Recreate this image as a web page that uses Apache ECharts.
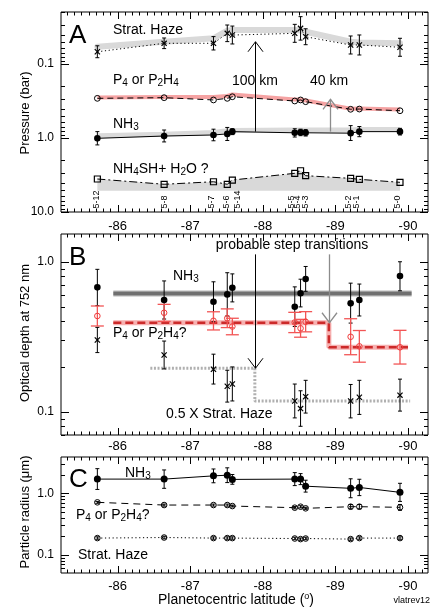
<!DOCTYPE html>
<html><head><meta charset="utf-8">
<script src="https://cdn.jsdelivr.net/npm/echarts@6/dist/echarts.min.js"></script>
<style>html,body{margin:0;padding:0;background:#fff}#c{width:436px;height:610px}</style>
</head><body><div id="c"></div>
<script>
// ---------------- data ----------------
const sampleIds = ['5-12','5-8','5-7','5-6','5-14','5-5','5-4','5-3','5-2','5-1','5-0'];
const latitude = [-85.72,-86.64,-87.32,-87.51,-87.58,-88.44,-88.52,-88.59,-89.21,-89.33,-89.89];
const xTickLabels = [-86,-87,-88,-89,-90];
const pressureTicks = [0.1, 1, 10];
const opticalDepthTicks = [0.1, 1];
const radiusTicks = [0.1, 1];

// Panel A : pressure (bar)
const hazeP    = [0.0683,0.0525,0.0525,0.0385,0.0406,0.0385,0.0330,0.0428,0.0553,0.0553,0.0594];
const hazePLo  = [0.0567,0.0445,0.0426,0.0297,0.0307,0.0291,0.0229,0.0334,0.0418,0.0405,0.0449];
const hazePHi  = [0.0822,0.0619,0.0646,0.0498,0.0536,0.0509,0.0475,0.0548,0.0732,0.0755,0.0786];
const hazeBandP= [0.0586,0.0500,0.0450,0.0355,0.0347,0.0347,0.0353,0.0366,0.0500,0.0510,0.0525];
const p4P      = [0.291,0.285,0.306,0.291,0.277,0.316,0.306,0.323,0.409,0.406,0.428];
const p4BandP  = [0.284,0.280,0.279,0.270,0.258,0.302,0.302,0.311,0.402,0.400,0.412];
const nh3P     = [1.01,0.94,0.91,0.88,0.82,0.85,0.84,0.85,0.86,0.82,0.82];
const nh3PLo   = [0.82,0.78,0.76,0.72,0.75,0.75,0.76,0.77,0.68,0.70,0.74];
const nh3PHi   = [1.24,1.13,1.09,1.08,0.90,0.97,0.93,0.94,1.08,0.96,0.91];
const nh3BandP = [0.93,0.89,0.84,0.80,0.79,0.78,0.78,0.78,0.78,0.77,0.77];
const nh4shP   = [3.58,4.22,3.90,4.22,3.70,3.00,2.77,3.23,3.51,3.62,3.97];
const nh4shBaseP = 5.15;
const transitionLat = [-87.89,-88.92];
const riseLabels = ['100 km','40 km'];
const riseFromP = [0.82,0.82];
const riseToP   = [0.05,0.30];

// Panel B : optical depth at 752 nm
const nh3Tau   = [0.675,0.556,0.541,0.606,0.671,0.501,0.616,0.767,0.528,0.556,0.803];
const nh3TauLo = [0.51,0.415,0.398,0.435,0.54,0.37,0.50,0.635,0.39,0.435,0.64];
const nh3TauHi = [0.89,0.745,0.735,0.845,0.83,0.68,0.765,0.93,0.72,0.71,1.0];
const p4Tau    = [0.435,0.457,0.404,0.420,0.370,0.394,0.360,0.398,0.316,0.273,0.269];
const p4TauLo  = [0.373,0.400,0.351,0.364,0.326,0.337,0.314,0.341,0.240,0.214,0.208];
const p4TauHi  = [0.507,0.520,0.464,0.485,0.420,0.460,0.413,0.465,0.417,0.348,0.349];
const hazeTau  = [0.301,0.239,0.192,0.148,0.153,0.118,0.105,0.126,0.118,0.125,0.129];
const hazeTauLo= [0.248,0.193,0.153,0.116,0.118,0.091,0.080,0.098,0.091,0.096,0.101];
const hazeTauHi= [0.365,0.296,0.242,0.189,0.199,0.153,0.138,0.162,0.152,0.162,0.165];
const nh3StepLat = [-85.94,-90.05];
const nh3StepTau = [0.615,0.615];
const p4StepLat  = [-85.94,-88.91,-88.91,-90.0];
const p4StepTau  = [0.392,0.392,0.269,0.269];
const hazeStepLat= [-86.45,-87.89,-87.89,-90.03];
const hazeStepTau= [0.195,0.195,0.118,0.118];
const stepFromTau = [1.12,1.12];
const stepToTau   = [0.195,0.392];
const stepLat     = [-87.89,-88.91];

// Panel C : particle radius (micron)
const nh3R   = [1.71,1.71,1.93,1.98,1.69,1.71,1.71,1.31,1.21,1.25,1.04];
const nh3RLo = [1.16,1.21,1.49,1.50,1.41,1.34,1.39,1.05,0.85,0.92,0.74];
const nh3RHi = [2.53,2.41,2.50,2.61,2.03,2.18,2.10,1.64,1.73,1.70,1.46];
const p4R    = [0.715,0.646,0.646,0.646,0.622,0.585,0.607,0.571,0.607,0.607,0.593];
const p4RLo  = [0.69,0.62,0.62,0.62,0.60,0.56,0.58,0.55,0.56,0.56,0.53];
const p4RHi  = [0.74,0.67,0.67,0.67,0.645,0.61,0.63,0.595,0.66,0.66,0.66];
const hazeR  = [0.187,0.191,0.187,0.187,0.187,0.184,0.180,0.184,0.180,0.187,0.187];
const hazeRLo= [0.179,0.182,0.179,0.179,0.179,0.176,0.172,0.176,0.172,0.179,0.179];
const hazeRHi= [0.196,0.200,0.196,0.196,0.196,0.193,0.188,0.193,0.188,0.196,0.196];

// ---------------- chart ----------------
const FONT = '"Liberation Sans", Arial, Helvetica, sans-serif';
const L = Math.log10;
const X_MIN = -90.276, X_MAX = -85.219;
const grids = [
  {left:61, top:12,  width:367, height:200, show:true, borderColor:'#000', borderWidth:1},
  {left:61, top:234, width:367, height:201, show:true, borderColor:'#000', borderWidth:1},
  {left:61, top:457, width:367, height:116, show:true, borderColor:'#000', borderWidth:1}
];
const yRange = [[-1.703, 1.0], [-1.155, 0.185], [-1.297, 0.593]];
const yInverse = [true, false, false];
const yTickVals = [pressureTicks, opticalDepthTicks, radiusTicks];
const xLabelMargin = [8, 5, 7];

const xMinor = []; for (let i = 853; i <= 902; i++) if (i % 10) xMinor.push(-i / 10);
function logMinor(r){const o=[];for(let d=-3;d<=2;d++)for(let m=2;m<=9;m++){const v=d+L(m);if(v>r[0]&&v<r[1])o.push(v);}return o;}

function tickSeries(g){
  const data=[];
  xTickLabels.forEach(v=>data.push([v,0]));
  xMinor.forEach(v=>data.push([v,1]));
  yTickVals[g].forEach(v=>data.push([L(v),2]));
  logMinor(yRange[g]).forEach(v=>data.push([v,3]));
  return {type:'custom', xAxisIndex:g, yAxisIndex:g, silent:true, z:20, data,
    renderItem(params, api){
      const cs=params.coordSys, v=api.value(0), k=api.value(1);
      const st={stroke:'#000', lineWidth:1};
      if(k<2){
        const px=Math.round(api.coord([v,0])[0])+0.5, len=k===0?7:3.5;
        return {type:'group',children:[
          {type:'line',shape:{x1:px,y1:cs.y+cs.height,x2:px,y2:cs.y+cs.height-len},style:st},
          {type:'line',shape:{x1:px,y1:cs.y,x2:px,y2:cs.y+len},style:st}]};
      }
      const py=Math.round(api.coord([-88,v])[1])+0.5, len=k===2?8:4;
      return {type:'group',children:[
        {type:'line',shape:{x1:cs.x,y1:py,x2:cs.x+len,y2:py},style:st},
        {type:'line',shape:{x1:cs.x+cs.width,y1:py,x2:cs.x+cs.width-len,y2:py},style:st}]};
    }};
}

function lineSeries(g, xs, ys, lineStyle, extra){
  return Object.assign({type:'line', xAxisIndex:g, yAxisIndex:g, silent:true, symbol:'none', showSymbol:false,
    data: xs.map((x,i)=>[x, L(ys[i])]), lineStyle, z:3, animation:false}, extra||{});
}

function pointSeries(g, ys, lo, hi, mk){
  const data = latitude.map((x,i)=>[x, L(ys[i]), L(lo?lo[i]:ys[i]), L(hi?hi[i]:ys[i])]);
  return {type:'custom', xAxisIndex:g, yAxisIndex:g, silent:true, z:10, data,
    encode:{x:0, y:1},
    renderItem(params, api){
      const c=api.coord([api.value(0),api.value(1)]);
      const a=api.coord([api.value(0),api.value(2)]);
      const b=api.coord([api.value(0),api.value(3)]);
      const ch=[]; const col=mk.color||'#000';
      const es={stroke:mk.ecolor||col, lineWidth:mk.ew||1};
      if(Math.abs(a[1]-b[1])>1){
        ch.push({type:'line',shape:{x1:c[0],y1:a[1],x2:c[0],y2:b[1]},style:es});
        ch.push({type:'line',shape:{x1:c[0]-mk.cap,y1:a[1],x2:c[0]+mk.cap,y2:a[1]},style:es});
        ch.push({type:'line',shape:{x1:c[0]-mk.cap,y1:b[1],x2:c[0]+mk.cap,y2:b[1]},style:es});
      }
      const r=mk.r;
      if(mk.type==='dot') ch.push({type:'circle',shape:{cx:c[0],cy:c[1],r},style:{fill:col}});
      else if(mk.type==='ring') ch.push({type:'circle',shape:{cx:c[0],cy:c[1],r},style:{fill:'transparent',stroke:col,lineWidth:mk.lw||1}});
      else if(mk.type==='square') ch.push({type:'rect',shape:{x:c[0]-r,y:c[1]-r,width:2*r,height:2*r},style:{fill:'transparent',stroke:col,lineWidth:mk.lw||1.2}});
      else if(mk.type==='x'){
        const s={stroke:col,lineWidth:mk.lw||1.2};
        ch.push({type:'line',shape:{x1:c[0]-r,y1:c[1]-r,x2:c[0]+r,y2:c[1]+r},style:s});
        ch.push({type:'line',shape:{x1:c[0]-r,y1:c[1]+r,x2:c[0]+r,y2:c[1]-r},style:s});
      }
      return {type:'group',children:ch};
    }};
}

function arrowSeries(g, lats, from, to, colors, widths){
  const data = lats.map((x,i)=>[x, L(from[i]), L(to[i]), i]);
  return {type:'custom', xAxisIndex:g, yAxisIndex:g, silent:true, z:8, data, encode:{x:0,y:1},
    renderItem(params, api){
      const i=api.value(3);
      const a=api.coord([api.value(0),api.value(1)]);
      const b=api.coord([api.value(0),api.value(2)]);
      const x=Math.round(a[0])+0.5, dir=a[1]>b[1]?1:-1;
      const s={stroke:colors[i], lineWidth:widths[i]};
      return {type:'group',children:[
        {type:'line',shape:{x1:x,y1:a[1],x2:x,y2:b[1]},style:s},
        {type:'polyline',shape:{points:[[x-7.5,b[1]+dir*10],[x,b[1]],[x+7.5,b[1]+dir*10]]},style:Object.assign({fill:null},s)}
      ]};
    }};
}

const labelNudge = [-1,0,-2,-1,5,-3,-3,0,-2,-3,-2];
function sampleLabelSeries(){
  return {type:'custom', xAxisIndex:0, yAxisIndex:0, silent:true, z:12,
    data: latitude.map((x,i)=>[x,0,i]), encode:{x:0,y:1},
    renderItem(params, api){
      const cs=params.coordSys, i=api.value(2);
      const px=api.coord([api.value(0),0])[0]+labelNudge[i];
      return {type:'text', x:px, y:cs.y+cs.height-3.5, rotation:Math.PI/2,
        style:{text:sampleIds[i], fill:'#000', fontSize:9, fontFamily:FONT, align:'left', verticalAlign:'middle'}};
    }};
}

const R = {
  a:{fontSize:14, fontFamily:FONT, lineHeight:16, fill:'#000'},
  s:{fontSize:10, fontFamily:FONT, lineHeight:8, verticalAlign:'bottom', fill:'#000'},
  b:{fontSize:26, fontFamily:FONT, lineHeight:28, fill:'#000'},
  p:{fontSize:9, fontFamily:FONT, lineHeight:8, verticalAlign:'top', fill:'#000'}
};
function txt(x,y,text,align){
  return {type:'text', x, y, z:100, silent:true,
    style:{text, rich:R, fill:'#000', font:'14px '+FONT, align:align||'left', verticalAlign:'middle'}};
}
function vtxt(x,y,text){
  return {type:'text', x, y, rotation:Math.PI/2, z:100, silent:true,
    style:{text, fill:'#000', font:'13px '+FONT, align:'center', verticalAlign:'middle'}};
}
const P4 = '{a|P}{s|4}{a| or P}{s|2}{a|H}{s|4}';
const NH3 = '{a|NH}{s|3}';

const series = [];
// ---- Panel A
series.push(lineSeries(0, latitude, hazeBandP, {color:'#d9d9d9', width:6, cap:'round'}, {z:1}));
series.push(lineSeries(0, latitude, p4BandP, {color:'#f5a3a3', width:4}, {z:1}));
series.push(lineSeries(0, latitude, nh3BandP, {color:'#dadada', width:5}, {z:1}));
series.push(lineSeries(0, latitude, nh4shP, {color:'#000', width:1, type:[8,3,2,3]},
  {z:2, areaStyle:{color:'#d9d9d9', opacity:1, origin:L(nh4shBaseP)}}));
series.push(lineSeries(0, latitude, hazeP, {color:'#000', width:1, type:[1.2,2.6]}));
series.push(lineSeries(0, latitude, p4P, {color:'#000', width:1, type:[6,4]}));
series.push(lineSeries(0, latitude, nh3P, {color:'#000', width:1}));
series.push(pointSeries(0, hazeP, hazePLo, hazePHi, {type:'x', r:2.6, cap:2}));
series.push(pointSeries(0, p4P, null, null, {type:'ring', r:2.9, cap:2}));
series.push(pointSeries(0, nh3P, nh3PLo, nh3PHi, {type:'dot', r:3.3, cap:2}));
series.push(pointSeries(0, nh4shP, null, null, {type:'square', r:3, cap:2}));
series.push(arrowSeries(0, transitionLat, riseFromP, riseToP, ['#000','#8c8c8c'], [1,1.3]));
series.push(sampleLabelSeries());
// ---- Panel B
series.push(lineSeries(1, nh3StepLat, nh3StepTau, {color:'#cfcfcf', width:6.5}, {z:1}));
series.push(lineSeries(1, nh3StepLat, nh3StepTau, {color:'#707070', width:4}, {z:2}));
series.push(lineSeries(1, p4StepLat, p4StepTau, {color:'#f6b0b0', width:5}, {z:1}));
series.push(lineSeries(1, p4StepLat, p4StepTau, {color:'#cc2a2a', width:2.5, type:[8,4]}, {z:2}));
series.push(lineSeries(1, hazeStepLat, hazeStepTau, {color:'#b0b0b0', width:3, type:[2,1.6]}, {z:2}));
series.push(pointSeries(1, nh3Tau, nh3TauLo, nh3TauHi, {type:'dot', r:3.3, cap:2}));
series.push(pointSeries(1, p4Tau, p4TauLo, p4TauHi, {type:'ring', r:2.8, cap:6.5, color:'#f03c3c', ecolor:'#f25555', ew:1.3}));
series.push(pointSeries(1, hazeTau, hazeTauLo, hazeTauHi, {type:'x', r:2.6, cap:2}));
series.push(arrowSeries(1, stepLat, stepFromTau, stepToTau, ['#000','#8c8c8c'], [1,1.3]));
// ---- Panel C
series.push(lineSeries(2, latitude, nh3R, {color:'#000', width:1}));
series.push(lineSeries(2, latitude, p4R, {color:'#000', width:1, type:[7,5]}));
series.push(lineSeries(2, latitude, hazeR, {color:'#000', width:1, type:[1.2,2.6]}));
series.push(pointSeries(2, nh3R, nh3RLo, nh3RHi, {type:'dot', r:3.5, cap:2}));
series.push(pointSeries(2, p4R, p4RLo, p4RHi, {type:'ring', r:2.8, cap:2}));
series.push(pointSeries(2, hazeR, hazeRLo, hazeRHi, {type:'ring', r:2.8, cap:2}));
// ticks
[0,1,2].forEach(g=>series.push(tickSeries(g)));

const option = {
  animation:false,
  backgroundColor:'#fff',
  grid: grids,
  xAxis: grids.map((_,g)=>({gridIndex:g, type:'value', min:X_MIN, max:X_MAX, inverse:true,
    axisLine:{show:false}, axisTick:{show:false}, splitLine:{show:false},
    axisLabel:{customValues:xTickLabels, formatter:v=>String(v), fontSize:13, fontFamily:FONT, color:'#000', margin:xLabelMargin[g]}})),
  yAxis: grids.map((_,g)=>({gridIndex:g, type:'value', min:yRange[g][0], max:yRange[g][1], inverse:yInverse[g],
    axisLine:{show:false}, axisTick:{show:false}, splitLine:{show:false},
    axisLabel:{customValues:yTickVals[g].map(v=>L(v)), formatter:v=>Math.pow(10,v).toFixed(1), fontSize:12, fontFamily:FONT, color:'#000', margin:7}})),
  series,
  graphic:{elements:[
    txt(69,36,'{b|A}'),
    txt(113,30,'{a|Strat. Haze}'),
    txt(113,80,P4),
    txt(255,81,'{a|'+riseLabels[0]+'}','center'),
    txt(329,81,'{a|'+riseLabels[1]+'}','center'),
    txt(113,124,NH3),
    txt(113,169,'{a|NH}{s|4}{a|SH+ H}{s|2}{a|O ?}'),
    txt(69,258,'{b|B}'),
    txt(292,245,'{a|probable step transitions}','center'),
    txt(173,276,NH3),
    txt(113,333,P4+'{a|?}'),
    txt(166,414,'{a|0.5 X Strat. Haze}'),
    txt(69,480,'{b|C}'),
    txt(125,473,NH3),
    txt(76,515,P4+'{a|?}'),
    txt(78,555,'{a|Strat. Haze}'),
    txt(236,600,'{a|Planetocentric latitude (}{p|o}{a|)}','center'),
    {type:'text', x:430, y:601, z:100, style:{text:'vlatrev12', fill:'#000', font:'9px '+FONT, align:'right', verticalAlign:'middle'}},
    vtxt(25,113,'Pressure (bar)'),
    vtxt(25,333,'Optical depth at 752 nm'),
    vtxt(25,512,'Particle radius (\u03bcm)')
  ]}
};
const chart = echarts.init(document.getElementById('c'), null, {renderer:'canvas'});
chart.setOption(option);
</script>
</body></html>
